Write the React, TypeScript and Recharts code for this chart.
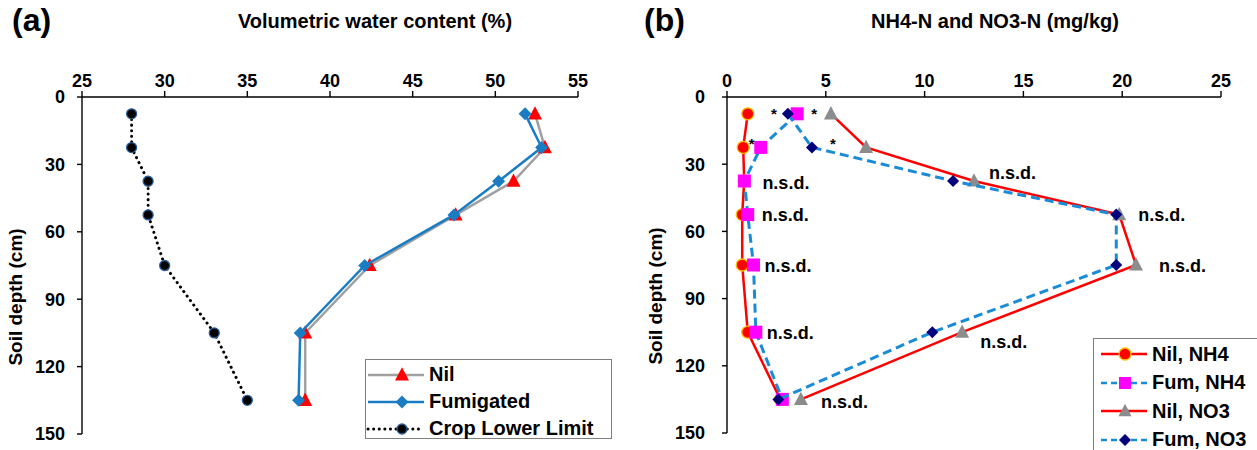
import React from 'react';
import { ScatterChart, Scatter, XAxis, YAxis } from 'recharts';

const depths = [7.5, 22.5, 37.5, 52.5, 75, 105, 135];
const depthTicks = [0, 30, 60, 90, 120, 150];

// (a) volumetric water content (%)
const nilWater = [52.4, 53.0, 51.1, 47.6, 42.4, 38.5, 38.5];
const fumWater = [51.8, 52.8, 50.2, 47.5, 42.1, 38.2, 38.1];
const cllWater = [28.0, 28.0, 29.0, 29.0, 30.0, 33.0, 35.0];
const waterTicks = [25, 30, 35, 40, 45, 50, 55];

// (b) NH4-N and NO3-N (mg/kg)
const nilNH4 = [1.05, 0.82, 0.87, 0.77, 0.77, 1.05, 2.7];
const fumNH4 = [3.55, 1.71, 0.88, 1.05, 1.34, 1.46, 2.8];
const nilNO3 = [5.26, 7.04, 12.5, 19.85, 20.7, 11.9, 3.74];
const fumNO3 = [3.08, 4.3, 11.44, 19.7, 19.7, 10.39, 2.6];
const nTicks = [0, 5, 10, 15, 20, 25];

const fumNH4Notes = ['*', '*', 'n.s.d.', 'n.s.d.', 'n.s.d.', 'n.s.d.', ''];
const fumNO3Notes = ['*', '*', '', '', '', '', ''];
const nilNO3Notes = ['', '', 'n.s.d.', 'n.s.d.', 'n.s.d.', 'n.s.d.', 'n.s.d.'];

// where each note sits relative to its marker (dx, dy)
const fumNH4NotePos = [[17, -3], [-9, -6], [18, 1], [14, 0], [11, 0], [11, 0], [0, 0]];
const fumNO3NotePos = [[-14, -3], [21, -6], [0, 0], [0, 0], [0, 0], [0, 0], [0, 0]];
const nilNO3NotePos = [[0, 0], [0, 0], [15, -9], [19, 0], [23, 0], [18, 9], [20, 2]];

const FONT = '"Liberation Sans", Arial, sans-serif';
const BLUE = '#1a7dc4';
const DASHBLUE = '#1a8bd6';

const pts = (xs: number[]) => depths.map((d, i) => ({ x: xs[i], y: d, i }));

function Mark({ kind, cx, cy, fill, size, stroke }: any) {
  const r = size / 2;
  if (kind === 'triangle')
    return <polygon points={`${cx},${cy - r * 1.1} ${cx - r},${cy + r * 0.8} ${cx + r},${cy + r * 0.8}`} fill={fill} />;
  if (kind === 'diamond')
    return <polygon points={`${cx},${cy - r} ${cx + r},${cy} ${cx},${cy + r} ${cx - r},${cy}`} fill={fill} />;
  if (kind === 'square') return <rect x={cx - r} y={cy - r} width={size} height={size} fill={fill} />;
  return <circle cx={cx} cy={cy} r={r} fill={fill} stroke={stroke || 'none'} strokeWidth={stroke ? 1.3 : 0} />;
}

function shape(kind: string, fill: string, size: number, stroke?: string, notes?: string[], pos?: number[][]) {
  return (p: any) => {
    const i = p.payload ? p.payload.i : p.index;
    const note = notes ? notes[i] : '';
    const [dx, dy] = pos ? pos[i] : [0, 0];
    return (
      <g>
        <Mark kind={kind} cx={p.cx} cy={p.cy} fill={fill} size={size} stroke={stroke} />
        {note === '*' && (
          <text x={p.cx + dx} y={p.cy + dy + 8} textAnchor="middle" fontSize={15} fontWeight="bold" fontFamily={FONT} fill="#000">
            *
          </text>
        )}
        {note && note !== '*' && (
          <text x={p.cx + dx} y={p.cy + dy + 6.5} fontSize={18} fontWeight="bold" fontFamily={FONT} fill="#000">
            {note}
          </text>
        )}
      </g>
    );
  };
}

const tickStyle = { fill: '#000', fontSize: 18, fontWeight: 'bold', fontFamily: FONT };
const axisStroke = { stroke: '#000', strokeWidth: 1.4 };

function LegendRow({ kind, fill, size, stroke, line, dash, label, w = 60, h = 27 }: any) {
  return (
    <div style={{ display: 'flex', alignItems: 'center', height: h }}>
      <svg width={w} height={20} style={{ flex: 'none' }}>
        <line x1={2} y1={10} x2={w - 2} y2={10} stroke={line} strokeWidth={dash === 'dot' ? 3 : 2.5}
          strokeDasharray={dash === 'dot' ? '0.1 5.5' : dash} strokeLinecap={dash === 'dot' ? 'round' : 'butt'} />
        <Mark kind={kind} cx={w === 60 ? 36 : w / 2 + 1} cy={10} fill={fill} size={size} stroke={stroke} />
      </svg>
      <span style={{ marginLeft: 3, whiteSpace: 'nowrap' }}>{label}</span>
    </div>
  );
}

function PanelA() {
  return (
    <div style={{ position: 'absolute', left: 0, top: 0, width: 628, height: 450 }}>
      <ScatterChart width={628} height={450} margin={{ top: 0, right: 50, bottom: 16, left: 0 }}>
        <XAxis type="number" dataKey="x" orientation="top" domain={[25, 55]} ticks={waterTicks} height={97}
          tick={tickStyle} axisLine={axisStroke} tickLine={axisStroke} tickSize={6} tickMargin={4} />
        <YAxis type="number" dataKey="y" domain={[0, 150]} ticks={depthTicks} reversed width={82}
          tick={tickStyle} axisLine={axisStroke} tickLine={axisStroke} tickSize={5} tickMargin={12} />
        <Scatter name="Nil" data={pts(nilWater)} isAnimationActive={false} lineType="joint"
          line={{ stroke: '#a0a0a0', strokeWidth: 2.5 }} shape={shape('triangle', '#ff0000', 14)} />
        <Scatter name="Fumigated" data={pts(fumWater)} isAnimationActive={false} lineType="joint"
          line={{ stroke: BLUE, strokeWidth: 2.5 }} shape={shape('diamond', BLUE, 13)} />
        <Scatter name="Crop Lower Limit" data={pts(cllWater)} isAnimationActive={false} lineType="joint"
          line={{ stroke: '#000', strokeWidth: 3, strokeDasharray: '0.1 5.5', strokeLinecap: 'round' }}
          shape={shape('circle', '#000', 10, '#2a5f9e')} />
      </ScatterChart>
      <div style={{ position: 'absolute', left: 12, top: 2, fontSize: 32, fontWeight: 'bold', fontFamily: FONT }}>(a)</div>
      <div style={{ position: 'absolute', left: 375, top: 21, transform: 'translate(-50%,-50%)', fontSize: 20, fontWeight: 'bold', fontFamily: FONT, whiteSpace: 'nowrap' }}>
        Volumetric water content (%)
      </div>
      <div style={{ position: 'absolute', left: 16, top: 297, transform: 'translate(-50%,-50%) rotate(-90deg)', fontSize: 19, fontWeight: 'bold', fontFamily: FONT, whiteSpace: 'nowrap' }}>
        Soil depth (cm)
      </div>
      <div style={{ position: 'absolute', left: 365, top: 359, width: 247, height: 80, border: '1.5px solid #7f7f7f', background: '#fff', fontSize: 20, fontWeight: 'bold', fontFamily: FONT, boxSizing: 'border-box', paddingTop: 1 }}>
        <LegendRow kind="triangle" fill="#ff0000" size={14} line="#a0a0a0" label="Nil" />
        <LegendRow kind="diamond" fill={BLUE} size={13} line={BLUE} label="Fumigated" />
        <LegendRow kind="circle" fill="#000" size={10} stroke="#2a5f9e" line="#000" dash="dot" label="Crop Lower Limit" />
      </div>
    </div>
  );
}

function PanelB() {
  return (
    <div style={{ position: 'absolute', left: 628, top: 0, width: 629, height: 450 }}>
      <ScatterChart width={629} height={450} margin={{ top: 0, right: 36, bottom: 17, left: 0 }}>
        <XAxis type="number" dataKey="x" orientation="top" domain={[0, 25]} ticks={nTicks} height={97}
          tick={tickStyle} axisLine={axisStroke} tickLine={axisStroke} tickSize={6} tickMargin={4} />
        <YAxis type="number" dataKey="y" domain={[0, 150]} ticks={depthTicks} reversed width={99}
          tick={tickStyle} axisLine={axisStroke} tickLine={axisStroke} tickSize={5} tickMargin={17} />
        <Scatter name="Nil, NH4" data={pts(nilNH4)} isAnimationActive={false} lineType="joint"
          line={{ stroke: '#ff0000', strokeWidth: 2.5 }} shape={shape('circle', '#ff0000', 12, '#ffc000')} />
        <Scatter name="Fum, NH4" data={pts(fumNH4)} isAnimationActive={false} lineType="joint"
          line={{ stroke: DASHBLUE, strokeWidth: 3, strokeDasharray: '9 5' }}
          shape={shape('square', '#ff00ff', 13, undefined, fumNH4Notes, fumNH4NotePos)} />
        <Scatter name="Nil, NO3" data={pts(nilNO3)} isAnimationActive={false} lineType="joint"
          line={{ stroke: '#ff0000', strokeWidth: 2.5 }}
          shape={shape('triangle', '#8c8c8c', 14, undefined, nilNO3Notes, nilNO3NotePos)} />
        <Scatter name="Fum, NO3" data={pts(fumNO3)} isAnimationActive={false} lineType="joint"
          line={{ stroke: DASHBLUE, strokeWidth: 3, strokeDasharray: '9 5' }}
          shape={shape('diamond', '#00007f', 12, undefined, fumNO3Notes, fumNO3NotePos)} />
      </ScatterChart>
      <div style={{ position: 'absolute', left: 16, top: 2, fontSize: 32, fontWeight: 'bold', fontFamily: FONT }}>(b)</div>
      <div style={{ position: 'absolute', left: 367, top: 21, transform: 'translate(-50%,-50%)', fontSize: 20, fontWeight: 'bold', fontFamily: FONT, whiteSpace: 'nowrap' }}>
        NH4-N and NO3-N (mg/kg)
      </div>
      <div style={{ position: 'absolute', left: 28, top: 296, transform: 'translate(-50%,-50%) rotate(-90deg)', fontSize: 19, fontWeight: 'bold', fontFamily: FONT, whiteSpace: 'nowrap' }}>
        Soil depth (cm)
      </div>
      <div style={{ position: 'absolute', left: 465, top: 338, width: 180, height: 130, border: '1.5px solid #7f7f7f', background: '#fff', fontSize: 20, fontWeight: 'bold', fontFamily: FONT, boxSizing: 'border-box', paddingTop: 1 }}>
        <div style={{ marginLeft: 5 }}>
          <LegendRow kind="circle" fill="#ff0000" size={12} stroke="#ffc000" line="#ff0000" label="Nil, NH4" w={50} h={28.5} />
          <LegendRow kind="square" fill="#ff00ff" size={12} line={DASHBLUE} dash="6 4" label="Fum, NH4" w={50} h={28.5} />
          <LegendRow kind="triangle" fill="#8c8c8c" size={13} line="#ff0000" label="Nil, NO3" w={50} h={28.5} />
          <LegendRow kind="diamond" fill="#00007f" size={12} line={DASHBLUE} dash="6 4" label="Fum, NO3" w={50} h={28.5} />
        </div>
      </div>
    </div>
  );
}

export default function App() {
  return (
    <div style={{ position: 'fixed', left: 0, top: 0, width: 1257, height: 450, overflow: 'hidden', background: '#fff' }}>
      <PanelA />
      <PanelB />
    </div>
  );
}
